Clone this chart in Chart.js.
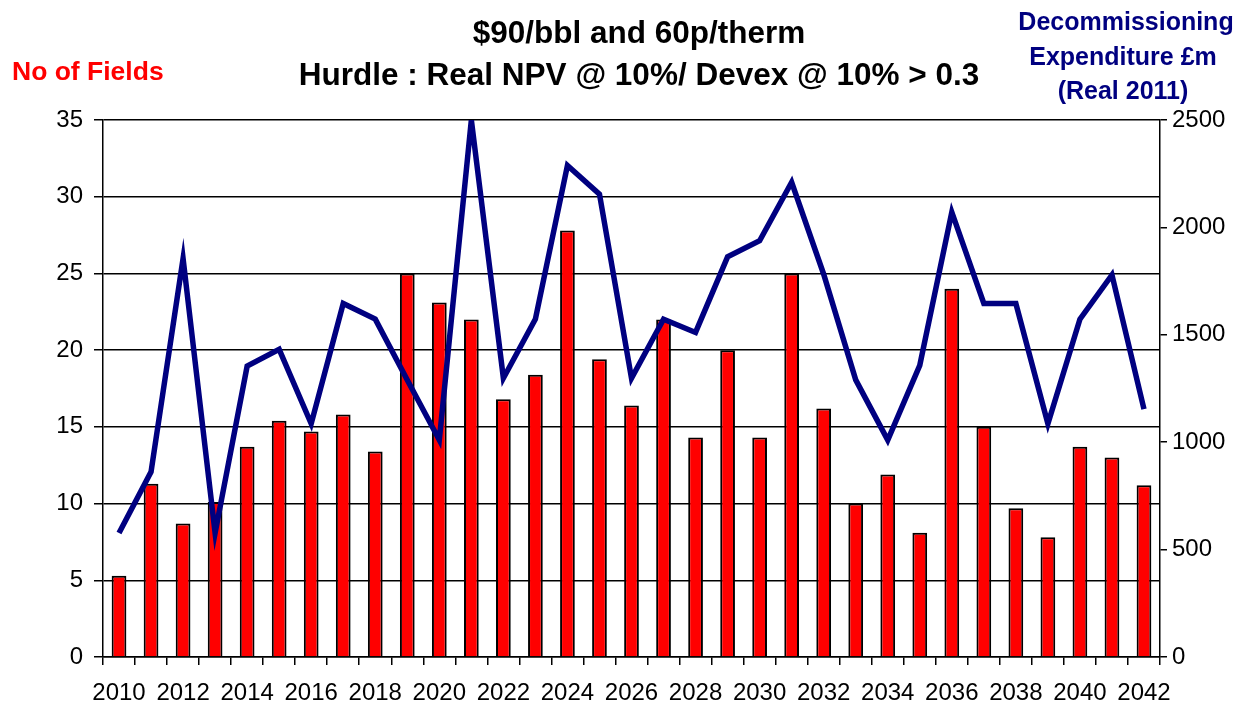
<!DOCTYPE html>
<html>
<head>
<meta charset="utf-8">
<script src="https://cdn.jsdelivr.net/npm/chart.js@4.4.0/dist/chart.umd.min.js"></script>
<style>
  html, body { margin: 0; padding: 0; background: #ffffff; }
  #wrap { width: 1245px; height: 709px; }
</style>
</head>
<body>
<div id="wrap"><canvas id="myChart" width="1245" height="709"></canvas></div>
<script>
// years on the x axis
const years = [];
for (let y = 2010; y <= 2042; y++) years.push(String(y));

// No of Fields (left axis)
const fields = [5.3, 11.3, 8.7, 10.1, 13.7, 15.4, 14.7, 15.8, 13.4, 25.0, 23.1,
    22.0, 16.8, 18.4, 27.8, 19.4, 16.4, 22.0, 14.3, 20.0, 14.3, 25.0,
    16.2, 10.0, 11.9, 8.1, 24.0, 15.0, 9.7, 7.8, 13.7, 13.0, 11.2];

// Decommissioning expenditure £m, real 2011 (right axis)
const spend = [577, 862, 1855, 577, 1354, 1432, 1086, 1646, 1573, 1290, 1010,
    2500, 1298, 1573, 2288, 2155, 1298, 1573, 1511, 1863, 1938, 2210,
    1782, 1290, 1010, 1358, 2071, 1646, 1646, 1086, 1573, 1779, 1154];

const titleLines = ['$90/bbl and 60p/therm', 'Hurdle : Real NPV @ 10%/ Devex @ 10% > 0.3'];
const leftTitle = 'No of Fields';
const rightTitle = ['Decommissioning', 'Expenditure £m', '(Real 2011)'];

const FONT = '"Liberation Sans", Arial, sans-serif';

// titles drawn as text on the canvas
const textPlugin = {
    id: 'texts',
    afterDraw(chart) {
        const ctx = chart.ctx;
        ctx.save();
        ctx.textBaseline = 'middle';
        ctx.textAlign = 'center';
        ctx.fillStyle = '#000000';
        ctx.font = 'bold 31.5px ' + FONT;
        ctx.fillText(titleLines[0], 639, 34);
        ctx.fillText(titleLines[1], 639, 76);

        ctx.textAlign = 'left';
        ctx.fillStyle = '#ff0000';
        ctx.font = 'bold 26.5px ' + FONT;
        ctx.fillText(leftTitle, 12, 73);

        ctx.textAlign = 'center';
        ctx.fillStyle = '#000080';
        ctx.font = 'bold 25px ' + FONT;
        ctx.fillText(rightTitle[0], 1126, 23);
        ctx.fillText(rightTitle[1], 1123, 58);
        ctx.fillText(rightTitle[2], 1123, 92);
        ctx.restore();
    }
};

const chart = new Chart(document.getElementById('myChart').getContext('2d'), {
    type: 'bar',
    data: {
        labels: years,
        datasets: [
            {
                type: 'line',
                label: 'Decommissioning Expenditure',
                data: spend,
                yAxisID: 'y1',
                borderColor: '#000080',
                backgroundColor: '#000080',
                borderWidth: 5.5,
                pointRadius: 0,
                tension: 0,
                order: 0
            },
            {
                label: 'No of Fields',
                data: fields,
                yAxisID: 'y',
                backgroundColor: '#ff0000',
                borderColor: '#000000',
                borderWidth: 2,
                barPercentage: 0.46,
                categoryPercentage: 1,
                order: 1
            }
        ]
    },
    options: {
        responsive: false,
        animation: false,
        layout: { padding: { top: 120, left: 0, right: 0, bottom: 0 } },
        plugins: {
            legend: { display: false },
            tooltip: { enabled: false }
        },
        scales: {
            x: {
                afterFit: s => { s.height = 52; },
                grid: { offset: true, drawOnChartArea: false, color: '#000000', tickLength: 8, lineWidth: 1.5 },
                border: { color: '#000000', width: 1.5 },
                ticks: {
                    autoSkip: false, maxRotation: 0, padding: 14, color: '#000000',
                    font: { family: FONT, size: 24 },
                    callback: (v, i) => (i % 2 === 0 ? years[i] : '')
                }
            },
            y: {
                position: 'left',
                min: 0, max: 35,
                afterFit: s => { s.width = 103; },
                grid: { color: '#000000', lineWidth: 1.5, tickLength: 9 },
                border: { color: '#000000', width: 1.5 },
                ticks: { stepSize: 5, padding: 11, color: '#000000', font: { family: FONT, size: 24 } }
            },
            y1: {
                position: 'right',
                min: 0, max: 2500,
                afterFit: s => { s.width = 85; },
                grid: { drawOnChartArea: false, color: '#000000', lineWidth: 1.5, tickLength: 7 },
                border: { color: '#000000', width: 1.5 },
                ticks: {
                    stepSize: 500, padding: 5, color: '#000000',
                    font: { family: FONT, size: 24 },
                    callback: v => String(v)
                }
            }
        }
    },
    plugins: [textPlugin]
});
</script>
</body>
</html>
